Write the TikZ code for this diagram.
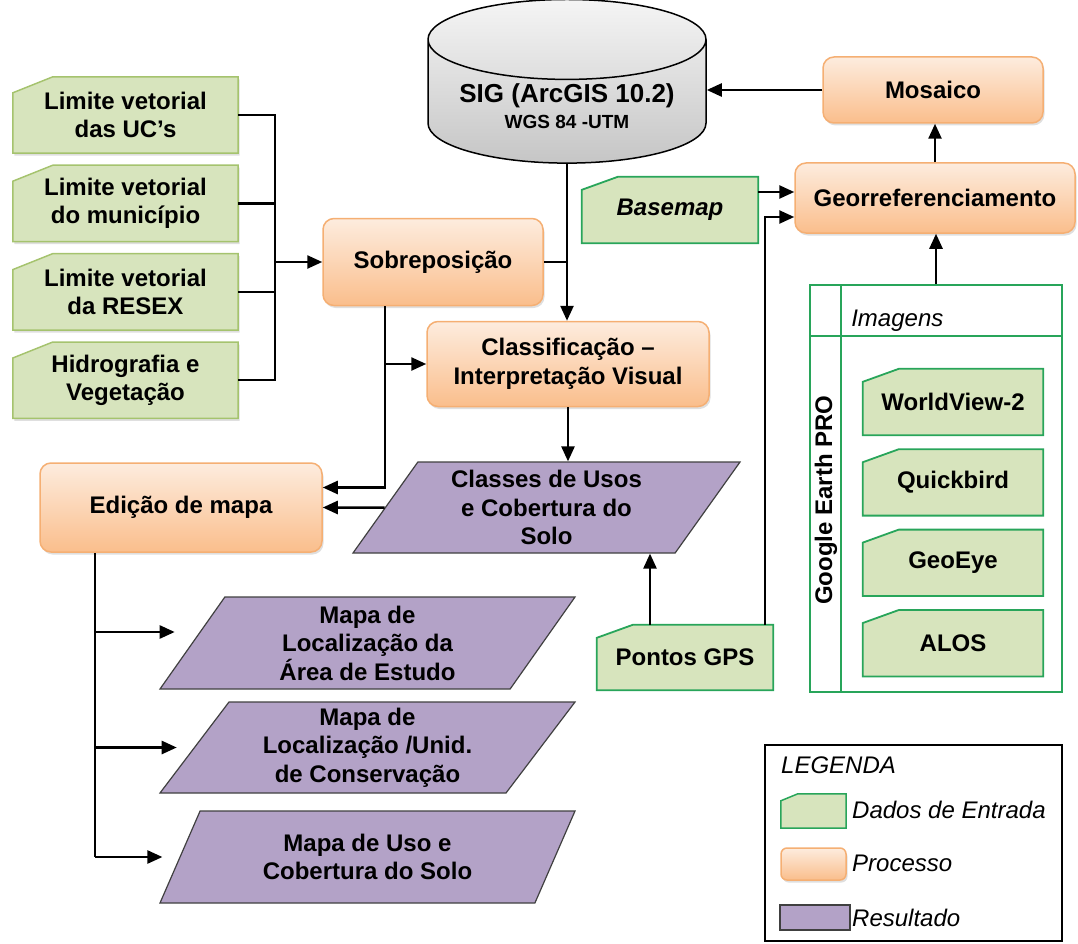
\documentclass[tikz,border=0pt]{standalone}
\usepackage{fontspec}
\setmainfont{Liberation Sans}
\usetikzlibrary{shapes.geometric, arrows.meta, positioning, calc, shadows, backgrounds}

\definecolor{verdeclaro}{RGB}{215,228,189}
\definecolor{verdeborda}{RGB}{40,165,90}
\definecolor{oliva}{RGB}{165,195,110}
\definecolor{laranjatopo}{RGB}{253,236,222}
\definecolor{laranjabase}{RGB}{250,190,140}
\definecolor{laranjaborda}{RGB}{245,175,115}
\definecolor{roxo}{RGB}{179,162,199}

\begin{document}
\begin{tikzpicture}[
  x=1pt, y=-1pt,
  font=\fontsize{24}{28.5}\selectfont,
  % estilos dos nos
  dado/.style={
    rectangle, align=center, inner sep=0pt,
    font=\fontsize{24}{28.5}\selectfont\bfseries
  },
  forma/.style={draw=verdeborda, line width=1.8pt, fill=verdeclaro},
  formaleve/.style={
    draw=oliva, line width=1.5pt, fill=verdeclaro,
    drop shadow={shadow xshift=1.5pt, shadow yshift=-2.5pt, opacity=.25}
  },
  processo/.style={
    rectangle, rounded corners=11pt, draw=laranjaborda, line width=1.5pt,
    top color=laranjatopo, bottom color=laranjabase, align=center,
    inner sep=0pt, font=\fontsize{24}{28.5}\selectfont\bfseries,
    drop shadow={shadow xshift=1.5pt, shadow yshift=-2.5pt, opacity=.25}
  },
  resultado/.style={
    trapezium, trapezium left angle=49, trapezium right angle=131,
    trapezium stretches body, draw=black!75, line width=1.2pt,
    fill=roxo, align=center, inner sep=0pt,
    font=\fontsize{24}{28.5}\selectfont\bfseries
  },
  seta/.style={-{Triangle[length=15pt, width=13pt]}, line width=2.5pt, black},
  linha/.style={line width=2.5pt, black},
  nota/.style={font=\fontsize{24}{28.5}\selectfont\itshape, anchor=west, inner sep=0pt}
]
\useasboundingbox (0,0) rectangle (1078,944);

% dados de entrada (esquerda)
\node[dado, minimum width=225pt, minimum height=76pt] (lim1) at (125.5,115) {Limite vetorial\\das UC’s};
\node[dado, minimum width=225pt, minimum height=76pt, below=12pt of lim1] (lim2) {Limite vetorial\\do município};
\node[dado, minimum width=225pt, minimum height=76pt, below=12pt of lim2] (lim3) {Limite vetorial\\da RESEX};
\node[dado, minimum width=225pt, minimum height=76pt, below=12pt of lim3] (hidro) {Hidrografia e\\Vegetação};

% processos
\node[processo, minimum width=220pt, minimum height=87pt] (sobre) at (433,262) {Sobreposição};
\node[processo, minimum width=282pt, minimum height=85pt] (classif) at (568,364) {Classificação –\\Interpretação Visual};
\node[processo, minimum width=282pt, minimum height=89pt] (edicao) at (181,507.5) {Edição de mapa};
\node[processo, minimum width=220pt, minimum height=66pt] (mosaico) at (933,90) {Mosaico};
\node[processo, minimum width=280pt, minimum height=70pt] (geo) at (935,198) {Georreferenciamento};

% banco SIG
\node[cylinder, shape border rotate=90, aspect=0.36, draw, line width=1.5pt,
  top color=gray!8, bottom color=gray!45, minimum width=278pt, minimum height=148pt,
  align=center, font=\fontsize{26}{30}\selectfont\bfseries] (sig) at (567,106)
  {SIG (ArcGIS 10.2)\\[-4pt]{\fontsize{19}{22}\selectfont WGS 84 -UTM}};

% outros dados
\node[dado, minimum width=176pt, minimum height=66pt, font=\fontsize{24}{28.5}\selectfont\bfseries\itshape] (basemap) at (670,210) {Basemap};
\node[dado, minimum width=176pt, minimum height=65pt] (gps) at (685,657.5) {Pontos GPS};

% imagens do Google Earth
\node[draw=verdeborda, line width=1.8pt, minimum width=252pt, minimum height=407pt, inner sep=0pt] (grupo) at (936,488.5) {};
\draw[verdeborda, line width=1.8pt] ([xshift=32pt]grupo.north west) -- ([xshift=32pt]grupo.south west);
\draw[verdeborda, line width=1.8pt] ([yshift=-52pt]grupo.north west) -- ([yshift=-52pt]grupo.north east);
\node[nota] (imagens) at ([xshift=42pt, yshift=-37pt]grupo.north west) {Imagens};
\node[rotate=90, font=\fontsize{24}{28.5}\selectfont\bfseries, inner sep=0pt] (google) at (826,500) {Google Earth PRO};
\node[dado, minimum width=180pt, minimum height=66pt] (wv) at (953,402) {WorldView-2};
\node[dado, minimum width=180pt, minimum height=66pt, below=14pt of wv] (qb) {Quickbird};
\node[dado, minimum width=180pt, minimum height=66pt, below=14pt of qb] (ge) {GeoEye};
\node[dado, minimum width=180pt, minimum height=66pt, below=14pt of ge] (alos) {ALOS};

% resultados
\node[resultado, minimum width=387pt, minimum height=91pt] (classes) at (546.5,507.5) {Classes de Usos\\e Cobertura do\\Solo};
\node[resultado, minimum width=415pt, minimum height=92pt] (mapa1) at (367.5,643) {Mapa de\\Localização da\\Área de Estudo};
\node[resultado, minimum width=415pt, minimum height=91pt] (mapa2) at (367.5,747.5) {Mapa de\\Localização /Unid.\\de Conservação};
\node[resultado, minimum width=415pt, minimum height=92pt] (mapa3) at (367.5,857) {Mapa de Uso e\\Cobertura do Solo};

% legenda
\node[draw=black, line width=1.5pt, minimum width=297pt, minimum height=196pt, inner sep=0pt] (legenda) at (913.5,843) {};
\node[nota] (tlegenda) at (781,765) {LEGENDA};
\node[dado, minimum width=65pt, minimum height=34pt] (ldado) at (813.5,811) {};
\node[nota] (tdado) at (852,810) {Dados de Entrada};
\node[processo, rounded corners=6pt, minimum width=65pt, minimum height=32pt] (lproc) at (813.5,864) {};
\node[nota] (tproc) at (852,863) {Processo};
\node[resultado, trapezium left angle=56, trapezium right angle=124, minimum width=70pt, minimum height=25pt] (lres) at (815,917.5) {};
\node[nota] (tres) at (852,918) {Resultado};

% formas dos dados (canto cortado), atras do texto
\begin{pgfonlayer}{background}
  \foreach \n in {lim1,lim2,lim3,hidro}
    \filldraw[formaleve] (\n.south west) -- (\n.south east) -- (\n.north east)
      -- ([xshift=40pt]\n.north west) -- ([yshift=-16pt]\n.north west) -- cycle;
  \foreach \n in {basemap,gps,wv,qb,ge,alos}
    \filldraw[forma] (\n.south west) -- (\n.south east) -- (\n.north east)
      -- ([xshift=36pt]\n.north west) -- ([yshift=-13pt]\n.north west) -- cycle;
  \filldraw[forma, line width=1.5pt] (ldado.south west) -- (ldado.south east) -- (ldado.north east)
    -- ([xshift=17pt]ldado.north west) -- ([yshift=-7pt]ldado.north west) -- cycle;
\end{pgfonlayer}

% conexoes
\coordinate (barra) at (275,262);
\foreach \n in {lim1,lim2,lim3,hidro}
  \draw[linha] (\n.east) -| (barra);
\draw[seta] (barra) -- (sobre.west);
\draw[seta] (sig.south) -- (sig.south |- classif.north);
\draw[linha] (sobre.east) -- (sobre.east -| sig.south);
\coordinate (s1) at ([xshift=-48pt]sobre.south);
\draw[seta] (s1) |- ([yshift=20pt]edicao.east);
\draw[seta] (s1 |- classif.west) -- (classif.west);
\draw[seta] (classif.south) -- (classif.south |- classes.north);
\draw[seta] (classes.west) -- (edicao.east);
\draw[seta] ([xshift=-35pt]gps.north) -- ([xshift=-35pt]gps.north |- classes.south);
\draw[seta] ([xshift=80pt]gps.north) |- ([yshift=-19pt]geo.west);
\draw[seta] ([yshift=18pt]basemap.east) -- ([yshift=18pt]basemap.east -| geo.west);
\draw[seta] (grupo.north) -- (grupo.north |- geo.south);
\draw[seta] (geo.north) -- (geo.north |- mosaico.south);
\draw[seta] (mosaico.west) -- (mosaico.west -| sig.east);
\coordinate (e0) at ([xshift=-86pt]edicao.south);
\draw[linha] (e0) -- (e0 |- mapa3.west);
\foreach \m/\dy in {mapa1/11, mapa2/0, mapa3/0}
  \draw[seta, shorten >=17pt] ([yshift=\dy pt]e0 |- \m.west) -- ([yshift=\dy pt]\m.west);
\end{tikzpicture}
\end{document}
